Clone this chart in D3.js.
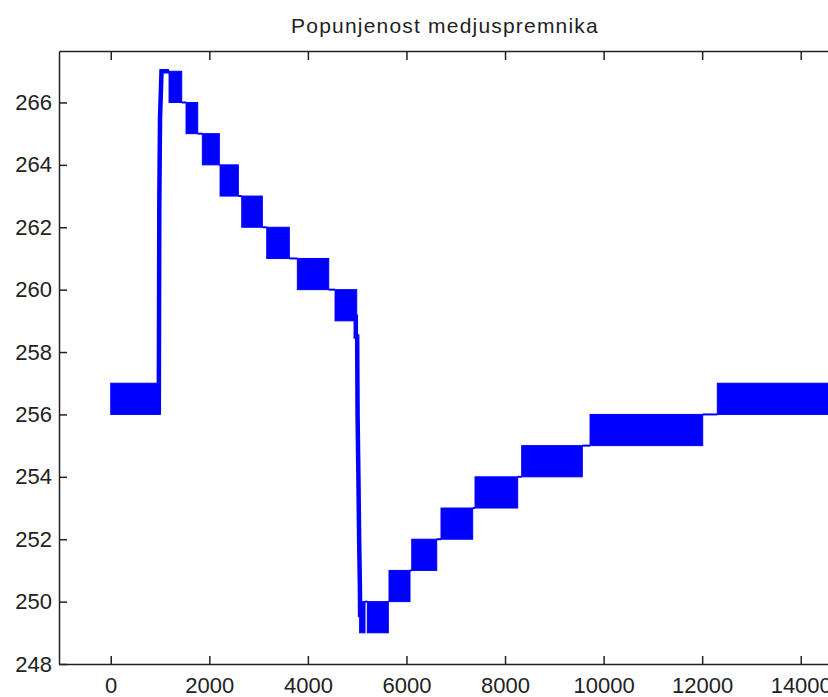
<!DOCTYPE html>
<html>
<head>
<meta charset="utf-8">
<script src="https://cdnjs.cloudflare.com/ajax/libs/d3/7.8.5/d3.min.js"></script>
<style>
  body { margin: 0; background: #fff; }
  svg { display: block; }
  .tick text { font-family: "Liberation Sans", Arial, sans-serif; font-size: 22px; fill: #222; }
  .axis path, .axis line { stroke: #222; stroke-width: 1.5; }
</style>
</head>
<body>
<div id="chart"></div>
<script>
// oscillation bands: signal toggles between low and low+1 over [start, end]
const bandStart = [0, 1183, 1528, 1858, 2218, 2658, 3165, 3786, 4551, 5050, 5206, 5646, 6107, 6701, 7391, 8338, 9725, 12307];
const bandEnd   = [1000, 1440, 1765, 2203, 2589, 3076, 3623, 4423, 4991, 5159, 5632, 6072, 6614, 7344, 8257, 9568, 12011, 14614];
const bandLow   = [256, 266, 265, 264, 263, 262, 261, 260, 259, 249, 249, 250, 251, 252, 253, 254, 255, 256];

// fast transitions
const riseX = [975, 985, 1000, 1030, 1183];
const riseY = [256, 262.7, 265.5, 267, 267];
const fallX = [4972, 4972, 5000, 5008, 5025, 5040, 5055, 5060];
const fallY = [259.2, 258.5, 258.5, 256, 254, 252, 250.5, 249.5];

const xTicks = [0, 2000, 4000, 6000, 8000, 10000, 12000, 14000];
const yTicks = [248, 250, 252, 254, 256, 258, 260, 262, 264, 266];

const W = 828, H = 697;
const pLeft = 59, pRight = 831, pTop = 51, pBottom = 664;
const blue = "#0000ff";

const svg = d3.select("#chart").append("svg")
  .attr("width", W)
  .attr("height", H);

const x = d3.scaleLinear().domain([-1050, 14614]).range([pLeft, pRight]);
const y = d3.scaleLinear().domain([248, 267.65]).range([pBottom, pTop]);

svg.append("clipPath").attr("id", "plot")
  .append("rect")
  .attr("x", pLeft).attr("y", pTop)
  .attr("width", pRight - pLeft).attr("height", pBottom - pTop);

const plot = svg.append("g").attr("clip-path", "url(#plot)");

const bands = bandStart.map((s, i) => ({ s: s, e: bandEnd[i], lo: bandLow[i] }));

// flat lines joining one band to the next
const links = [];
for (let i = 0; i < bands.length - 1; i++) {
  if (i === 0 || i === 8) continue;
  const a = bands[i], b = bands[i + 1];
  let lvl = b.lo > a.lo ? b.lo : (b.lo < a.lo ? a.lo : a.lo + 1);
  links.push([[a.e, lvl], [b.s, lvl]]);
}

const line = d3.line().x(d => x(d[0])).y(d => y(d[1]));

plot.selectAll("path.link")
  .data(links)
  .enter()
  .append("path")
  .attr("class", "link")
  .attr("d", line)
  .attr("fill", "none")
  .attr("stroke", blue)
  .attr("stroke-width", 2);

plot.selectAll("rect.band")
  .data(bands)
  .enter()
  .append("rect")
  .attr("class", "band")
  .attr("x", d => x(d.s))
  .attr("y", d => y(d.lo + 1))
  .attr("width", d => x(d.e) - x(d.s))
  .attr("height", d => y(d.lo) - y(d.lo + 1))
  .attr("fill", blue)
  .attr("stroke", blue)
  .attr("stroke-width", 1);

[[riseX, riseY], [fallX, fallY]].forEach(function (t) {
  plot.append("path")
    .attr("d", line(t[0].map((v, i) => [v, t[1][i]])))
    .attr("fill", "none")
    .attr("stroke", blue)
    .attr("stroke-width", 4.5);
});

// AXES (matlab style box, ticks inward)
svg.append("g")
  .attr("class", "axis")
  .attr("transform", "translate(0," + pBottom + ")")
  .call(d3.axisBottom(x).tickValues(xTicks).tickFormat(d3.format("d"))
    .tickSizeInner(-8).tickSizeOuter(0).tickPadding(13));

svg.append("g")
  .attr("class", "axis")
  .attr("transform", "translate(0," + pTop + ")")
  .call(d3.axisTop(x).tickValues(xTicks).tickFormat("")
    .tickSizeInner(-9).tickSizeOuter(0));

svg.append("g")
  .attr("class", "axis")
  .attr("transform", "translate(" + pLeft + ",0)")
  .call(d3.axisLeft(y).tickValues(yTicks).tickFormat(d3.format("d"))
    .tickSizeInner(-8).tickSizeOuter(0).tickPadding(7));

svg.append("text")
  .attr("x", (pLeft + pRight) / 2)
  .attr("y", 33)
  .attr("text-anchor", "middle")
  .style("font-family", "\"Liberation Sans\", Arial, sans-serif")
  .style("font-size", "21px")
  .style("letter-spacing", "1.2px")
  .style("fill", "#222")
  .text("Popunjenost medjuspremnika");
</script>
</body>
</html>
